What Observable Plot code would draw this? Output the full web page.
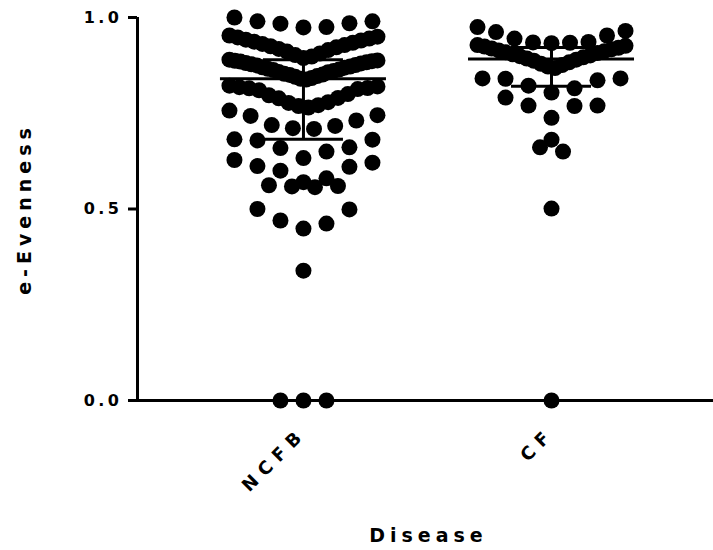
<!DOCTYPE html>
<html><head><meta charset="utf-8">
<script src="https://cdn.jsdelivr.net/npm/d3@7"></script>
<script src="https://cdn.jsdelivr.net/npm/@observablehq/plot@0.6"></script>
<style>
 body{margin:0;background:#fff}
 #chart svg text{font-family:"DejaVu Sans",Arial,sans-serif;font-weight:bold;fill:#000}
 g[aria-label="y-axis tick label"] text{font-size:16px;letter-spacing:3.5px}
 g[aria-label="x-axis tick label"] text{font-size:18px;letter-spacing:7px}
</style></head>
<body><div id="chart"></div>
<script>
// ---- data ----
const categories = ["NCFB", "CF"];
const ncfbValues = [
  1.0, 0.99, 0.99, 0.985, 0.984, 0.975, 0.974,
  0.953, 0.95, 0.948, 0.945, 0.942, 0.94, 0.937, 0.934, 0.931, 0.928, 0.925, 0.922, 0.918, 0.915, 0.911, 0.906, 0.902, 0.898, 0.894,
  0.838, 0.84, 0.842, 0.845, 0.847, 0.85, 0.851, 0.853, 0.857, 0.858, 0.86, 0.863, 0.864, 0.866, 0.869, 0.87, 0.872, 0.875, 0.876, 0.878, 0.88, 0.881, 0.883, 0.885, 0.886, 0.887, 0.888, 0.89,
  0.822, 0.82, 0.818, 0.816, 0.815, 0.813, 0.81, 0.80, 0.797, 0.79, 0.789, 0.779, 0.777, 0.771, 0.769, 0.765,
  0.757, 0.745, 0.743, 0.731, 0.719, 0.717, 0.711, 0.709,
  0.682, 0.681, 0.679, 0.661, 0.659, 0.65, 0.633,
  0.628, 0.621, 0.612, 0.61, 0.60, 0.58, 0.57,
  0.562, 0.56, 0.559, 0.557,
  0.50, 0.499, 0.47, 0.462, 0.449,
  0.339,
  0, 0, 0
];
const cfValues = [
  0.975, 0.965, 0.962, 0.953, 0.945, 0.936, 0.935, 0.934, 0.933,
  0.928, 0.926, 0.924, 0.921, 0.919, 0.917, 0.914, 0.912, 0.909, 0.907, 0.904, 0.901, 0.899, 0.896, 0.893, 0.89, 0.887, 0.883, 0.879, 0.876, 0.872, 0.868,
  0.841, 0.841, 0.84, 0.836, 0.822, 0.815, 0.804,
  0.791, 0.77, 0.77, 0.769, 0.738,
  0.681, 0.661, 0.65,
  0.501,
  0
];
const yTicks = [0, 0.5, 1.0];
const yTitle = "e-Evenness";
const xTitle = "Disease";

// ---- layout ----
const W = 713, H = 550, mL = 137, mR = 0, mT = 17, mB = 150;
const xDomain = [-0.669, 1.653];
const pxPerX = (W - mL - mR) / (xDomain[1] - xDomain[0]);
const BIN = 0.065, TOPPAD = 0.021, MAXSTEP = 23, MAXW = 148;

// GraphPad-like column scatter: rows by value bin, lowest value in the centre
function swarm(values, ci) {
  const top = d3.max(values) + TOPPAD;
  const groups = d3.group(values.map(v => ({v})), d => Math.floor((top - d.v) / BIN));
  const out = [];
  for (const [, g] of groups) {
    g.sort((a, b) => a.v - b.v);
    const n = g.length;
    const step = n > 1 ? Math.min(MAXSTEP, MAXW / (n - 1)) : 0;
    const slots = d3.range(n).map(i => (i - (n - 1) / 2) * step);
    slots.sort((a, b) => Math.abs(a) - Math.abs(b) || b - a);
    g.forEach((d, i) => out.push({category: categories[ci], value: d.v, x: ci + slots[i] / pxPerX}));
  }
  return out;
}
const series = [ncfbValues, cfValues];
const points = series.flatMap((vals, i) => swarm(vals, i));
const summary = series.map((vals, i) => {
  const s = vals.slice().sort(d3.ascending);
  return {i, median: d3.quantileSorted(s, 0.5), q1: d3.quantileSorted(s, 0.25), q3: d3.quantileSorted(s, 0.75)};
});
const MED_HALF = 83 / pxPerX, CAP_HALF = 40 / pxPerX;

const plot = Plot.plot({
  width: W, height: H,
  marginLeft: mL, marginRight: mR, marginTop: mT, marginBottom: mB,
  style: {background: "white", overflow: "visible", fontFamily: "DejaVu Sans, Arial, sans-serif"},
  x: {domain: xDomain},
  y: {domain: [0, 1]},
  marks: [
    Plot.axisY({ticks: yTicks, tickFormat: d3.format(".1f"), tickSize: 9, strokeWidth: 3, tickPadding: 6, label: null}),
    Plot.axisX({ticks: [0, 1], tickFormat: i => categories[i], tickSize: 6, strokeWidth: 2.5, tickRotate: -45, tickPadding: 24, label: null}),
    Plot.ruleX([xDomain[0]], {stroke: "black", strokeWidth: 3}),
    Plot.ruleY([0], {stroke: "black", strokeWidth: 3}),
    Plot.dot(points, {x: "x", y: "value", r: 8, fill: "black"}),
    Plot.ruleY(summary, {y: "median", x1: d => d.i - MED_HALF, x2: d => d.i + MED_HALF, stroke: "black", strokeWidth: 3}),
    Plot.ruleY(summary, {y: "q1", x1: d => d.i - CAP_HALF, x2: d => d.i + CAP_HALF, stroke: "black", strokeWidth: 3}),
    Plot.ruleY(summary, {y: "q3", x1: d => d.i - CAP_HALF, x2: d => d.i + CAP_HALF, stroke: "black", strokeWidth: 3}),
    Plot.ruleX(summary, {x: "i", y1: "q1", y2: "q3", stroke: "black", strokeWidth: 3}),
    Plot.text([yTitle], {frameAnchor: "left", textAnchor: "middle", dx: -113, rotate: -90, fontSize: 19, fontWeight: "bold"}),
    Plot.text([xTitle], {frameAnchor: "bottom", textAnchor: "middle", dy: 141, dx: 3, fontSize: 19, fontWeight: "bold"})
  ]
});
// wide letter spacing of the axis titles, as in the original
d3.select(plot).selectAll("text")
  .filter(function () { return this.textContent === yTitle || this.textContent === xTitle; })
  .style("letter-spacing", "5px").style("font-size", "19px");
document.getElementById("chart").append(plot);
</script>
</body></html>
